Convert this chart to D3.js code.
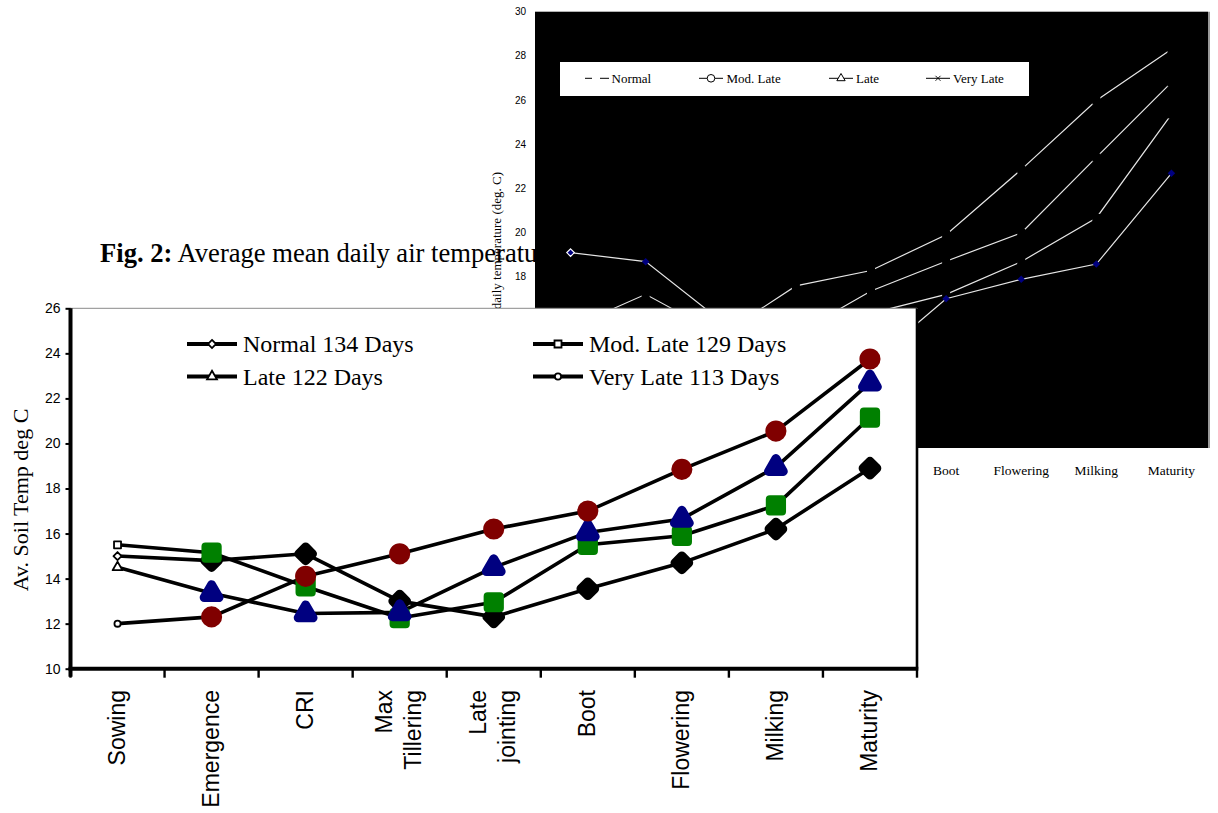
<!DOCTYPE html>
<html><head><meta charset="utf-8">
<script src="https://cdn.jsdelivr.net/npm/d3@7"></script>
<style>html,body{margin:0;padding:0;background:#fff;} svg{display:block;}</style>
</head><body>
<svg id="c" width="1218" height="813"></svg>
<script>
// ---------- DATA ----------
const stages = ["Sowing","Emergence","CRI","Max Tillering","Late jointing","Boot","Flowering","Milking","Maturity"];
const stageLabelLines = [["Sowing"],["Emergence"],["CRI"],["Max","Tillering"],["Late","jointing"],["Boot"],["Flowering"],["Milking"],["Maturity"]];

// main chart: average soil temperature (deg C)
const normal134   = [15.0, 14.8, 15.1, 13.0, 12.3, 13.55, 14.7, 16.2, 18.9];
const modLate129  = [15.5, 15.15, 13.65, 12.25, 12.95, 15.5, 15.9, 17.25, 21.15];
const late122     = [14.5, 13.35, 12.45, 12.5, 14.5, 16.05, 16.65, 18.95, 22.7];
const veryLate113 = [12.0, 12.3, 14.1, 15.1, 16.2, 17.0, 18.85, 20.55, 23.75];
const seriesNames = ["Normal 134 Days","Mod. Late 129 Days","Late 122 Days","Very Late 113 Days"];
const seriesColors = ["#000000","#008000","#000080","#800000"];
const yTicks = [10,12,14,16,18,20,22,24,26];

// background chart: average mean daily air temperature (deg C)
const bgVeryLate = [15.7, 17.2, 15.35, 17.58, 18.28, 19.9, 22.85, 25.98, 28.3];
const bgLate     = [14.2, 15.0, 14.0, 15.4, 17.35, 18.7, 19.98, 23.4, 26.8];
const bgModLate  = [13.2, 14.4, 13.6, 14.9, 16.34, 17.2, 18.68, 20.66, 25.35];
const bgNormal   = [19.09, 18.68, 16.0, 15.0, 14.1, 17.0, 17.88, 18.57, 22.68];
const bgLegend = ["Normal","Mod. Late","Late","Very Late"];
const bgYTicks = [10,12,14,16,18,20,22,24,26,28,30];

const SERIF = "'Liberation Serif','Times New Roman',serif";
const SANS = "'Liberation Sans',Arial,sans-serif";

const svg = d3.select("#c");
const defs = svg.append("defs");
defs.append("clipPath").attr("id","capClip").append("rect")
  .attr("x",0).attr("y",0).attr("width",535).attr("height",308);

// ---------- caption (partly covered) ----------
const cap = svg.append("text").attr("clip-path","url(#capClip)")
  .attr("x",100).attr("y",262).style("font-family",SERIF).style("font-size","26.6px").attr("fill","#000");
cap.append("tspan").style("font-weight","bold").text("Fig. 2:");
cap.append("tspan").text(" Average mean daily air temperature");

// ---------- background chart ----------
const bx = d3.scaleBand().domain(stages).range([533, 1209]);
const by = d3.scaleLinear().domain([10,30]).range([453.3, 11.7]);
const bcx = d => bx(d) + bx.bandwidth()/2;
const bg = svg.append("g");
bg.append("rect").attr("x",535).attr("y",by(30)).attr("width",1208-535).attr("height",448-by(30)).attr("fill","#000");
bg.append("line").attr("x1",1209).attr("x2",1209).attr("y1",by(30)).attr("y2",448).attr("stroke","#9a9a9a").attr("stroke-width",2);

bg.selectAll("text.byt").data(bgYTicks).join("text").attr("class","byt")
  .attr("x",526).attr("y",d=>by(d)).attr("dy","0.35em").attr("text-anchor","end")
  .style("font-family",SANS).style("font-size","10px").text(d=>d);

bg.append("text").attr("transform","translate(501,172) rotate(-90)").attr("text-anchor","end")
  .style("font-family",SERIF).style("font-size","13px").text("Average mean daily temperature (deg. C)");

bg.selectAll("text.bxt").data(stages).join("text").attr("class","bxt")
  .attr("x",d=>bcx(d)).attr("y",475).attr("text-anchor","middle")
  .style("font-family",SERIF).style("font-size","13.5px").text(d=>d);

const bline = d3.line().x((d,i)=>bcx(stages[i])).y(d=>by(d));
[bgVeryLate, bgLate, bgModLate].forEach(s=>{
  bg.append("path").attr("d",bline(s)).attr("fill","none").attr("stroke","#e6e6e6").attr("stroke-width",1.2);
  bg.selectAll(null).data(s).join("rect")
    .attr("x",(d,i)=>bcx(stages[i])-4).attr("y",d=>by(d)-4).attr("width",8).attr("height",8).attr("fill","#000");
});
bg.append("path").attr("d",bline(bgNormal)).attr("fill","none").attr("stroke","#e6e6e6").attr("stroke-width",1.2);
bg.selectAll(null).data(bgNormal).join("path")
  .attr("transform",(d,i)=>`translate(${bcx(stages[i])},${by(d)})`)
  .attr("d",d3.symbol().type(d3.symbolDiamond2).size(36)())
  .attr("fill","#000080").attr("stroke",(d,i)=>i===0?"#fff":"none").attr("stroke-width",1.2);

// background legend
const bl = bg.append("g");
bl.append("rect").attr("x",560).attr("y",62).attr("width",469).attr("height",34).attr("fill","#fff");
const blX = [585, 699, 829, 926];
const blY = 78.3;
bl.append("line").attr("x1",585).attr("x2",592).attr("y1",blY).attr("y2",blY).attr("stroke","#000").attr("stroke-width",1);
bl.append("line").attr("x1",600).attr("x2",609).attr("y1",blY).attr("y2",blY).attr("stroke","#000").attr("stroke-width",1);
[1,2,3].forEach(k=>{
  bl.append("line").attr("x1",blX[k]).attr("x2",blX[k]+24).attr("y1",blY).attr("y2",blY).attr("stroke","#000").attr("stroke-width",1);
});
bl.append("circle").attr("cx",blX[1]+12).attr("cy",blY).attr("r",3.8).attr("fill","#fff").attr("stroke","#000");
bl.append("path").attr("transform",`translate(${blX[2]+12},${blY})`).attr("d",d3.symbol().type(d3.symbolTriangle).size(30)()).attr("fill","#fff").attr("stroke","#000");
bl.append("path").attr("transform",`translate(${blX[3]+12},${blY})`).attr("d",d3.symbol().type(d3.symbolTimes).size(18)()).attr("fill","none").attr("stroke","#000").attr("stroke-width",0.9);
const blTextX = [611.5, 726.5, 856, 953];
bl.selectAll("text").data(bgLegend).join("text")
  .attr("x",(d,i)=>blTextX[i]).attr("y",83.3)
  .style("font-family",SERIF).style("font-size","13px").text(d=>d);

// ---------- main chart ----------
const x = d3.scaleBand().domain(stages).range([70.5, 917]);
const y = d3.scaleLinear().domain([10,26]).range([668.7, 308.3]);
const cx = d => x(d) + x.bandwidth()/2;
const m = svg.append("g");
m.append("rect").attr("x",0).attr("y",y(26)).attr("width",918).attr("height",813-y(26)).attr("fill","#fff");
m.append("line").attr("x1",70).attr("x2",917).attr("y1",y(26)).attr("y2",y(26)).attr("stroke","#8a8a8a").attr("stroke-width",1);
m.append("line").attr("x1",917).attr("x2",917).attr("y1",y(26)).attr("y2",y(10)).attr("stroke","#000").attr("stroke-width",2.6);

// y axis
const yAxis = m.append("g").attr("transform","translate(70.5,0)")
  .call(d3.axisLeft(y).tickValues(yTicks).tickSize(5).tickPadding(5).tickSizeOuter(0));
yAxis.select(".domain").remove();
yAxis.selectAll(".tick line").attr("stroke","#000").attr("stroke-width",2);
yAxis.selectAll(".tick text").style("font-family",SANS).style("font-size","14px").attr("fill","#000");
m.append("line").attr("x1",70.5).attr("x2",70.5).attr("y1",y(26)).attr("y2",y(10)+8).attr("stroke","#000").attr("stroke-width",4);

// x axis
const bounds = stages.map(s=>x(s)).concat([x.range()[1]]);
m.selectAll("line.xt").data(bounds).join("line").attr("class","xt")
  .attr("x1",d=>d).attr("x2",d=>d).attr("y1",y(10)).attr("y2",y(10)+9).attr("stroke","#000").attr("stroke-width",2.4);
m.append("line").attr("x1",68.5).attr("x2",918.3).attr("y1",y(10)).attr("y2",y(10)).attr("stroke","#000").attr("stroke-width",4);

stages.forEach((s,i)=>{
  const lines = stageLabelLines[i];
  lines.forEach((ln,j)=>{
    m.append("text")
      .attr("transform",`translate(${cx(s) + 7 + (j-(lines.length-1)/2)*29},690) rotate(-90)`)
      .attr("text-anchor","end").style("font-family",SANS).style("font-size","23px").attr("fill","#000")
      .text(ln);
  });
});

// y title
m.append("text").attr("transform","translate(28,500) rotate(-90)").attr("text-anchor","middle")
  .style("font-family",SERIF).style("font-size","22px").text("Av. Soil Temp deg C");

// series
const allSeries = [normal134, modLate129, late122, veryLate113];
const smallSym = [d3.symbolDiamond2, d3.symbolSquare, d3.symbolTriangle, d3.symbolCircle];
const smallSize = [42, 49, 42, 30];
const bigSize = [120, 150, 95, 180];
const bigStroke = [9, 8, 9, 6];
const line = d3.line().x((d,i)=>cx(stages[i])).y(d=>y(d));
allSeries.forEach(s=>{
  m.append("path").attr("d",line(s)).attr("fill","none").attr("stroke","#000").attr("stroke-width",3.6).attr("stroke-linejoin","round");
});
allSeries.forEach((s,k)=>{
  m.selectAll(null).data(s).join("path")
    .attr("transform",(d,i)=>`translate(${cx(stages[i])},${y(d)})`)
    .attr("d",(d,i)=> i===0 ? d3.symbol().type(smallSym[k]).size(smallSize[k])()
                            : d3.symbol().type(smallSym[k]).size(bigSize[k])())
    .attr("fill",(d,i)=> i===0 ? "#fff" : seriesColors[k])
    .attr("stroke",(d,i)=> i===0 ? "#000" : seriesColors[k])
    .attr("stroke-width",(d,i)=> i===0 ? 1.8 : bigStroke[k])
    .attr("stroke-linejoin","round");
});

// legend
const legX = [187, 533, 187, 533];
const legY = [344, 344, 376.5, 376.5];
seriesNames.forEach((nm,k)=>{
  const g = m.append("g");
  g.append("line").attr("x1",legX[k]).attr("x2",legX[k]+50).attr("y1",legY[k]).attr("y2",legY[k]).attr("stroke","#000").attr("stroke-width",4);
  g.append("path").attr("transform",`translate(${legX[k]+25},${legY[k]})`)
    .attr("d",d3.symbol().type(smallSym[k]).size(smallSize[k])())
    .attr("fill","#fff").attr("stroke","#000").attr("stroke-width",1.8);
  g.append("text").attr("x",legX[k]+56).attr("y",legY[k]+8)
    .style("font-family",SERIF).style("font-size","24px").text(nm);
});
</script>
</body></html>
